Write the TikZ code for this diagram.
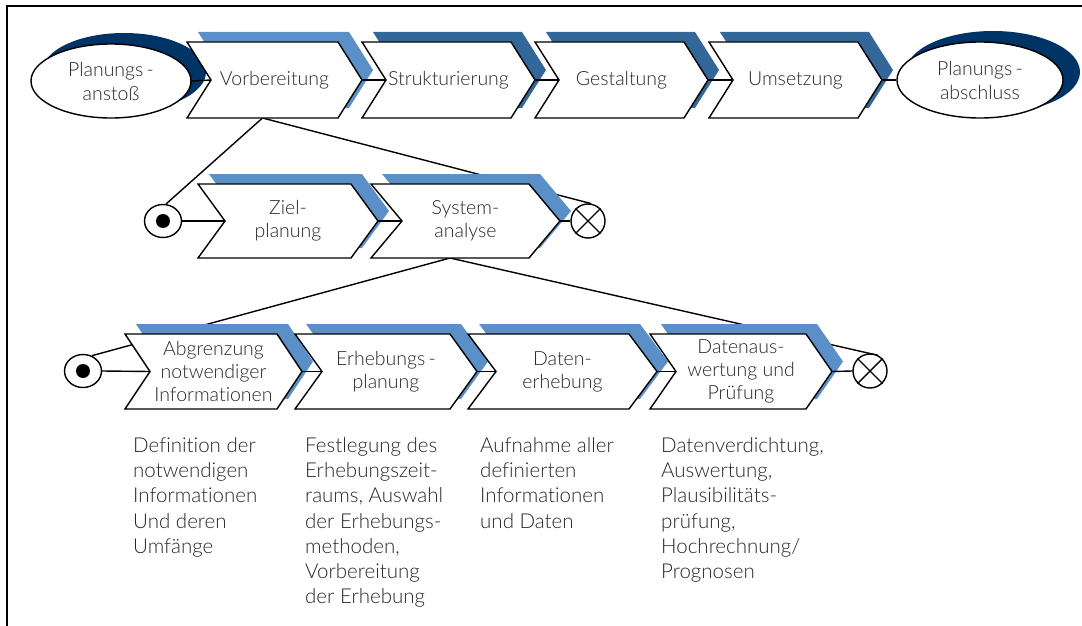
\documentclass[tikz,border=0pt]{standalone}
\usepackage{fontspec}
\setmainfont{Lato Light}[Ligatures={NoCommon,NoContextual}]
\usetikzlibrary{shapes.geometric}

\definecolor{navy}{RGB}{0,51,102}
\definecolor{lightblue}{RGB}{91,143,199}
\definecolor{midblue}{RGB}{51,102,153}
\definecolor{txt}{RGB}{38,38,38}

\pgfdeclarelayer{bg}
\pgfsetlayers{bg,main}

\tikzset{
  outline/.style={draw=black, line width=1.4pt, line join=miter},
  link/.style={draw=black, line width=1.4pt},
  chtext/.style={align=center, inner sep=0pt, text=txt,
    font=\fontsize{19.5}{23}\selectfont},
  elltext/.style={ellipse, outline, fill=white, align=center, inner sep=0pt,
    text=txt, font=\fontsize{19.5}{24}\selectfont},
  note/.style={align=left, anchor=north west, inner sep=0pt, text=txt,
    font=\fontsize{20.5}{25.3}\selectfont},
  startnode/.style={ellipse, outline, fill=white, minimum width=37pt,
    minimum height=33pt, inner sep=0pt},
  endnode/.style={circle, outline, fill=white, minimum size=34pt, inner sep=0pt},
}

% chevron: #1 name, #2 left x, #3 top y, #4 width to tip, #5 height,
% #6 notch depth, #7 shadow colour, #8 label
\newcommand\chevron[8]{%
  \begin{scope}[shift={(#2,#3)}]
    \fill[#7, shift={(11,-10)}] (0,0) -- (#4-#6,0) -- (#4,#5/2) -- (#4-#6,#5)
      -- (0,#5) -- (#6,#5/2) -- cycle;
    \path[outline, fill=white] (0,0) -- (#4-#6,0) -- (#4,#5/2) -- (#4-#6,#5)
      -- (0,#5) -- (#6,#5/2) -- cycle;
    \coordinate (#1-notch) at (#6,#5/2);
    \coordinate (#1-tip) at (#4,#5/2);
    \coordinate (#1-bot) at ({(#4-#6)/2},#5);
    \node[chtext] (#1) at ({#4/2},#5/2) {#8};
  \end{scope}}

\begin{document}
\begin{tikzpicture}[x=1pt, y=-1pt]
\useasboundingbox (0,0) rectangle (1082,626);

% frame
\draw[line width=1.8pt] (7,626) -- (7,6) -- (1082,6);

% ---- top level process ----
\fill[navy] (124,72) ellipse [x radius=82, y radius=39];
\node[elltext, minimum width=160pt, minimum height=74pt] (anstoss) at (111,81)
  {Planungs\,-\\anstoß};
\fill[navy] (993,72) ellipse [x radius=87, y radius=41];

\chevron{vorb}{187}{42}{175}{76}{24}{lightblue}{Vorbereitung}
\chevron{struk}{362}{42}{173}{76}{24}{midblue}{Strukturierung}
\chevron{gest}{535}{42}{173}{76}{24}{midblue}{Gestaltung}
\chevron{umse}{709}{42}{173}{76}{24}{midblue}{Umsetzung}

\node[elltext, minimum width=166pt, minimum height=76pt] (abschluss) at (980,80)
  {Planungs\,-\\abschluss};

% ---- refinement of Vorbereitung ----
\node[startnode] (s2) at (163,221) {};
\fill (s2.center) circle [radius=7pt];
\chevron{ziel}{198}{184}{180}{74}{27}{lightblue}{Ziel-\\planung}
\chevron{sys}{371}{184}{189}{74}{31}{lightblue}{System-\\analyse}
\node[endnode] (e2) at (588,221) {};
\draw[line width=1.4pt] (e2.north west) -- (e2.south east)
  (e2.north east) -- (e2.south west);

% ---- refinement of Systemanalyse ----
\node[startnode] (s3) at (83,371) {};
\fill (s3.center) circle [radius=7pt];
\chevron{abgr}{125}{334}{177}{75}{25}{lightblue}{Abgrenzung\\notwendiger\\Informationen}
\chevron{erhpl}{295}{334}{182}{75}{27}{lightblue}{Erhebungs\,-\\planung}
\chevron{daterh}{468}{334}{189}{75}{28}{lightblue}{Daten-\\erhebung}
\chevron{datausw}{650}{334}{182}{75}{26}{lightblue}{Datenaus-\\wertung und\\Prüfung}
\node[endnode] (e3) at (870,371) {};
\draw[line width=1.4pt] (e3.north west) -- (e3.south east)
  (e3.north east) -- (e3.south west);

% sequence links
\draw[link] (anstoss.east) -- (vorb-notch);
\draw[link] (vorb-tip) -- (struk-notch);
\draw[link] (struk-tip) -- (gest-notch);
\draw[link] (gest-tip) -- (umse-notch);
\draw[link] (umse-tip) -- (abschluss.west);
\draw[link] (s2.east) -- (ziel-notch);
\draw[link] (ziel-tip) -- (sys-notch);
\draw[link] (sys-tip) -- (e2.west);
\draw[link] (s3.east) -- (abgr-notch);
\draw[link] (abgr-tip) -- (erhpl-notch);
\draw[link] (erhpl-tip) -- (daterh-notch);
\draw[link] (daterh-tip) -- (datausw-notch);
\draw[link] (datausw-tip) -- (e3.west);

% refinement brackets, behind the shapes
\begin{pgfonlayer}{bg}
  \draw[link] (vorb-bot) -- (s2.80);
  \draw[link] (vorb-bot) -- (e2.80);
  \draw[link] (sys-bot) -- (s3.60);
  \draw[link] (sys-bot) -- (e3.62);
\end{pgfonlayer}

% descriptions
\node[note] (n1) at (133,437) {Definition der\\notwendigen\\Informationen\\Und deren\\Umfänge};
\node[note] (n2) at (305,437) {Festlegung des\\Erhebungszeit-\\raums, Auswahl\\der Erhebungs-\\methoden,\\Vorbereitung\\der Erhebung};
\node[note] (n3) at (480,437) {Aufnahme aller\\definierten\\Informationen\\und Daten};
\node[note] (n4) at (661,437) {Datenverdichtung,\\Auswertung,\\Plausibilitäts-\\prüfung,\\Hochrechnung/\\Prognosen};
\end{tikzpicture}
\end{document}
